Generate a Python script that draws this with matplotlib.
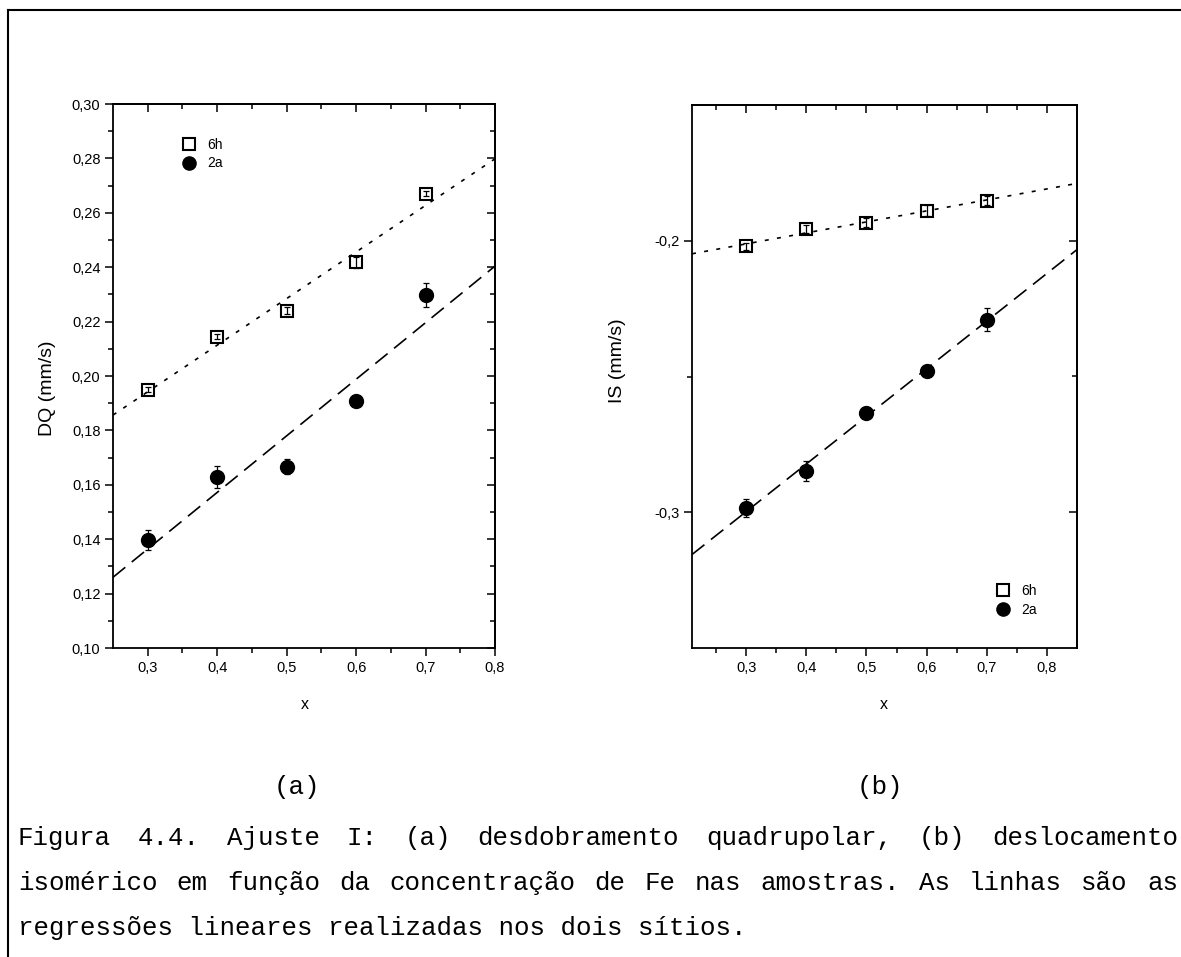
import matplotlib
matplotlib.use('Agg')
import matplotlib.pyplot as plt
import numpy as np
from matplotlib.lines import Line2D
from matplotlib.ticker import FixedLocator, NullFormatter

# ---------------- data ----------------
x_conc = [0.3, 0.4, 0.5, 0.6, 0.7]

dq_6h = [0.195, 0.2145, 0.224, 0.2418, 0.267]
dq_6h_err = [0.0010, 0.0010, 0.0012, 0.0020, 0.0010]
dq_2a = [0.1397, 0.163, 0.1667, 0.1908, 0.2298]
dq_2a_err = [0.0035, 0.0040, 0.0028, 0.0015, 0.0045]

is_6h = [-0.2021, -0.1957, -0.1933, -0.1890, -0.1852]
is_6h_err = [0.0012, 0.0015, 0.0015, 0.0020, 0.0015]
is_2a = [-0.2984, -0.2847, -0.2634, -0.2478, -0.2291]
is_2a_err = [0.0033, 0.0037, 0.0020, 0.0018, 0.0042]

series_labels = ['6h', '2a']

# ticks
a_xmajor = [0.3, 0.4, 0.5, 0.6, 0.7, 0.8]
a_xmajor_labels = ['0,3', '0,4', '0,5', '0,6', '0,7', '0,8']
a_xminor = [0.35, 0.45, 0.55, 0.65, 0.75]
a_ymajor = [0.10, 0.12, 0.14, 0.16, 0.18, 0.20, 0.22, 0.24, 0.26, 0.28, 0.30]
a_ymajor_labels = ['0,10', '0,12', '0,14', '0,16', '0,18', '0,20', '0,22',
                   '0,24', '0,26', '0,28', '0,30']
a_yminor = [0.11, 0.13, 0.15, 0.17, 0.19, 0.21, 0.23, 0.25, 0.27, 0.29]

b_xmajor = [0.3, 0.4, 0.5, 0.6, 0.7, 0.8]
b_xmajor_labels = ['0,3', '0,4', '0,5', '0,6', '0,7', '0,8']
b_xminor = [0.25, 0.35, 0.45, 0.55, 0.65, 0.75]
b_ymajor = [-0.3, -0.2]
b_ymajor_labels = ['-0,3', '-0,2']
b_yminor = [-0.25]

caption_lines = [
    "Figura 4.4. Ajuste I: (a) desdobramento quadrupolar, (b) deslocamento",
    "isomérico em função da concentração de Fe nas amostras. As linhas são as",
    "regressões lineares realizadas nos dois sítios.",
]
panel_tags = ['(a)', '(b)']

# ---------------- figure ----------------
W, H = 1181, 957
fig = plt.figure(figsize=(W / 100, H / 100), dpi=100)
fig.patch.set_facecolor('white')

SANS = 'Liberation Sans'
MONO = 'Liberation Mono'


def axes_rect(l, t, r, b):
    return [l / W, 1 - b / H, (r - l) / W, (b - t) / H]


def style_axes(ax, xmaj, xlab, xmin, ymaj, ylab, ymin):
    ax.set_xticks(xmaj)
    ax.set_xticklabels(xlab, fontfamily=SANS, fontsize=10.5)
    ax.xaxis.set_minor_locator(FixedLocator(xmin))
    ax.set_yticks(ymaj)
    ax.set_yticklabels(ylab, fontfamily=SANS, fontsize=10.5)
    ax.yaxis.set_minor_locator(FixedLocator(ymin))
    ax.tick_params(which='both', direction='out', top=False, right=False,
                   width=1.1, colors='black', pad=3)
    ax.tick_params(which='major', length=6)
    ax.tick_params(which='minor', length=3.5)
    for s in ax.spines.values():
        s.set_linewidth(1.3)
    # mirrored inward ticks on top and right
    sx = ax.secondary_xaxis('top')
    sx.set_xticks(xmaj)
    sx.xaxis.set_minor_locator(FixedLocator(xmin))
    sx.xaxis.set_major_formatter(NullFormatter())
    sx.tick_params(which='both', direction='in', width=1.1, labeltop=False)
    sx.tick_params(which='major', length=6)
    sx.tick_params(which='minor', length=3.5)
    sx.spines['top'].set_linewidth(1.3)
    sy = ax.secondary_yaxis('right')
    sy.set_yticks(ymaj)
    sy.yaxis.set_minor_locator(FixedLocator(ymin))
    sy.yaxis.set_major_formatter(NullFormatter())
    sy.tick_params(which='both', direction='in', width=1.1, labelright=False)
    sy.tick_params(which='major', length=6)
    sy.tick_params(which='minor', length=3.5)
    sy.spines['right'].set_linewidth(1.3)


def draw_series(ax, yo, yo_err, yc, yc_err):
    xl = np.array(ax.get_xlim())
    c_o = np.polyfit(x_conc, yo, 1)
    c_c = np.polyfit(x_conc, yc, 1)
    ax.plot(xl, np.polyval(c_o, xl), color='black', lw=1.2,
            linestyle=(0, (2.4, 5.0)))
    ax.plot(xl, np.polyval(c_c, xl), color='black', lw=1.2,
            linestyle=(0, (9.5, 5.0)))
    ax.errorbar(x_conc, yo, yerr=yo_err, fmt='none', ecolor='black',
                elinewidth=0.9, capsize=2, capthick=0.9)
    ax.errorbar(x_conc, yc, yerr=yc_err, fmt='none', ecolor='black',
                elinewidth=0.9, capsize=2, capthick=0.9)
    h1, = ax.plot(x_conc, yo, linestyle='none', marker='s', ms=9.2,
                  mfc='none', mec='black', mew=1.5, label=series_labels[0])
    h2, = ax.plot(x_conc, yc, linestyle='none', marker='o', ms=10,
                  mfc='black', mec='black', label=series_labels[1])
    return h1, h2


# ---- panel (a)
axa = fig.add_axes(axes_rect(113, 104, 495, 648))
axa.set_xlim(0.25, 0.8)
axa.set_ylim(0.10, 0.30)
style_axes(axa, a_xmajor, a_xmajor_labels, a_xminor,
           a_ymajor, a_ymajor_labels, a_yminor)
ha1, ha2 = draw_series(axa, dq_6h, dq_6h_err, dq_2a, dq_2a_err)
axa.set_ylabel('DQ (mm/s)', fontfamily=SANS, fontsize=14)
axa.yaxis.set_label_coords(-0.149, 0.478)
axa.set_xlabel('x', fontfamily=SANS, fontsize=11.5)
axa.xaxis.set_label_coords(0.503, -0.09)
axa.legend(handles=[ha1, ha2], loc='center left', frameon=False,
           bbox_to_anchor=(0.163, 0.908), borderpad=0, handlelength=1.0,
           handletextpad=0.8, labelspacing=0.35, numpoints=1,
           prop={'family': SANS, 'size': 10}, markerscale=0.95)

# ---- panel (b)
axb = fig.add_axes(axes_rect(692, 105, 1077, 648))
axb.set_xlim(0.21, 0.85)
axb.set_ylim(-0.35, -0.15)
style_axes(axb, b_xmajor, b_xmajor_labels, b_xminor,
           b_ymajor, b_ymajor_labels, b_yminor)
hb1, hb2 = draw_series(axb, is_6h, is_6h_err, is_2a, is_2a_err)
axb.set_ylabel('IS (mm/s)', fontfamily=SANS, fontsize=14)
axb.yaxis.set_label_coords(-0.171, 0.53)
axb.set_xlabel('x', fontfamily=SANS, fontsize=11.5)
axb.xaxis.set_label_coords(0.499, -0.09)
axb.legend(handles=[hb1, hb2], loc='center left', frameon=False,
           bbox_to_anchor=(0.772, 0.088), borderpad=0, handlelength=1.0,
           handletextpad=0.8, labelspacing=0.35, numpoints=1,
           prop={'family': SANS, 'size': 10}, markerscale=0.95)

# ---------------- caption ----------------
FS = 18.6
cw = FS * 100 / 72 * 0.6


def place_line(text, x0, y, x1=None):
    words = text.split(' ')
    if x1 is None:
        fig.text(x0 / W, 1 - y / H, text, fontfamily=MONO, fontsize=FS,
                 ha='left', va='center')
        return
    C = sum(len(w) for w in words)
    gap = ((x1 - x0) - C * cw) / (len(words) - 1)
    xp = x0
    for w in words:
        fig.text(xp / W, 1 - y / H, w, fontfamily=MONO, fontsize=FS,
                 ha='left', va='center')
        xp += len(w) * cw + gap


fig.text(297 / W, 1 - 787 / H, panel_tags[0], fontfamily=MONO, fontsize=FS,
         ha='center', va='center')
fig.text(880 / W, 1 - 787 / H, panel_tags[1], fontfamily=MONO, fontsize=FS,
         ha='center', va='center')
place_line(caption_lines[0], 18, 838, 1178)
place_line(caption_lines[1], 18, 883, 1178)
place_line(caption_lines[2], 18, 928)

# page frame (top and left edges)
fig.add_artist(Line2D([8 / W, 8 / W], [0, 1 - 10 / H], transform=fig.transFigure,
                      color='black', lw=1.5))
fig.add_artist(Line2D([8 / W, 1], [1 - 10 / H, 1 - 10 / H],
                      transform=fig.transFigure, color='black', lw=1.5))

fig.savefig('out.png', dpi=100, facecolor='white')
